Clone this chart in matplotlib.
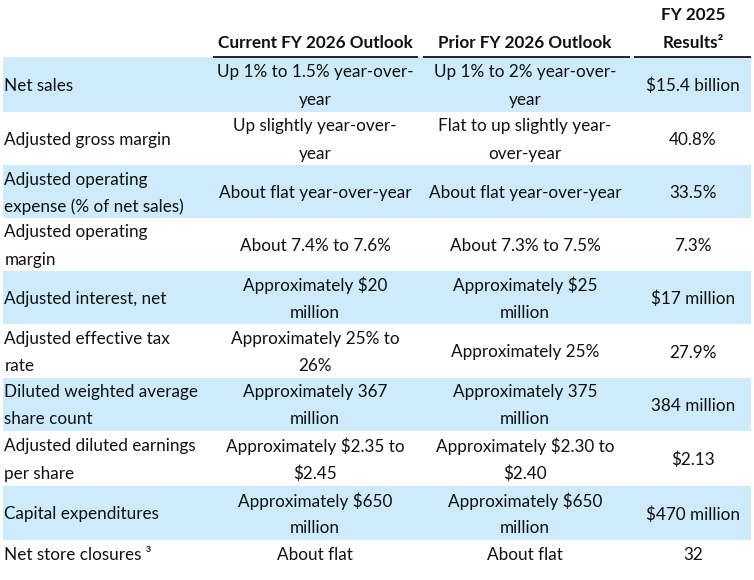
import matplotlib
matplotlib.use("Agg")
import matplotlib.pyplot as plt
from matplotlib.patches import Rectangle

# ---- data ----
headers = ["", "Current FY 2026 Outlook", "Prior FY 2026 Outlook", "FY 2025\nResults²"]
metrics = [
    "Net sales",
    "Adjusted gross margin",
    "Adjusted operating\nexpense (% of net sales)",
    "Adjusted operating\nmargin",
    "Adjusted interest, net",
    "Adjusted effective tax\nrate",
    "Diluted weighted average\nshare count",
    "Adjusted diluted earnings\nper share",
    "Capital expenditures",
    "Net store closures ³",
]
current_outlook = [
    "Up 1% to 1.5% year-over-\nyear",
    "Up slightly year-over-\nyear",
    "About flat year-over-year",
    "About 7.4% to 7.6%",
    "Approximately $20\nmillion",
    "Approximately 25% to\n26%",
    "Approximately 367\nmillion",
    "Approximately $2.35 to\n$2.45",
    "Approximately $650\nmillion",
    "About flat",
]
prior_outlook = [
    "Up 1% to 2% year-over-\nyear",
    "Flat to up slightly year-\nover-year",
    "About flat year-over-year",
    "About 7.3% to 7.5%",
    "Approximately $25\nmillion",
    "Approximately 25%",
    "Approximately 375\nmillion",
    "Approximately $2.30 to\n$2.40",
    "Approximately $650\nmillion",
    "About flat",
]
fy2025_results = [
    "$15.4 billion", "40.8%", "33.5%", "7.3%", "$17 million",
    "27.9%", "384 million", "$2.13", "$470 million", "32",
]

# ---- layout (pixel coordinates) ----
W, H = 754, 580
row_edges = [57, 112, 165, 218, 271, 324, 378, 431, 486, 540, 568]
col_left = [3, 213, 423, 634]
col_right = [213, 418, 630, 751]
col_center = [None, 315, 525, 693]
blue = "#CDEBFB"
FONT = ["Lato", "DejaVu Sans"]
fs = 12.3
line_gap = 27
dy = 1.5

fig = plt.figure(figsize=(W / 100, H / 100), dpi=100)
ax = fig.add_axes([0, 0, 1, 1])
ax.set_xlim(0, W)
ax.set_ylim(H, 0)
ax.axis("off")


def put(x, yc, s, ha, bold=False):
    lines = s.split("\n")
    n = len(lines)
    for i, ln in enumerate(lines):
        y = yc + dy + (i - (n - 1) / 2) * line_gap
        ax.text(x, y, ln, ha=ha, va="center", fontsize=fs, family=FONT,
                fontweight="bold" if bold else "normal", color="#111111")


# row backgrounds
for i in range(len(metrics)):
    top, bot = row_edges[i], row_edges[i + 1]
    if i % 2 == 0:
        ax.add_patch(Rectangle((col_left[0], top), col_right[-1] - col_left[0], bot - top,
                               facecolor=blue, edgecolor="none", zorder=0))

# header underline segments
for c in range(1, 4):
    ax.plot([col_left[c], col_right[c]], [row_edges[0], row_edges[0]], color="black", lw=1.2,
            solid_capstyle="butt")

# headers
put(col_center[1], 41, headers[1], "center", bold=True)
put(col_center[2], 41, headers[2], "center", bold=True)
put(col_center[3], 27.5, headers[3], "center", bold=True)

# body
for i in range(len(metrics)):
    yc = (row_edges[i] + row_edges[i + 1]) / 2
    put(col_left[0] + 1.5, yc, metrics[i], "left")
    put(col_center[1], yc, current_outlook[i], "center")
    put(col_center[2], yc, prior_outlook[i], "center")
    put(col_center[3], yc, fy2025_results[i], "center")

fig.savefig("out.png", dpi=100)
